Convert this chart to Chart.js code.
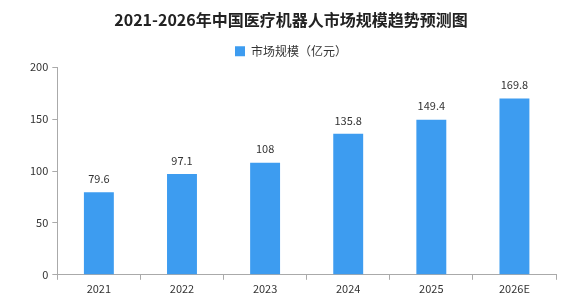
<!DOCTYPE html>
<html>
<head>
<meta charset="utf-8">
<script src="https://cdn.jsdelivr.net/npm/chart.js@4/dist/chart.umd.min.js"></script>
<style>
  html, body { margin: 0; padding: 0; background: #fff; }
  #wrap { width: 576px; height: 299px; }
</style>
</head>
<body>
<div id="wrap"><canvas id="chart"></canvas></div>
<script>
// chart data
const years = ['2021', '2022', '2023', '2024', '2025', '2026E'];
const marketSize = [79.6, 97.1, 108, 135.8, 149.4, 169.8];
const yTicks = [0, 50, 100, 150, 200];

const FONT = '"Noto Sans CJK SC", "DejaVu Sans", sans-serif';

// value labels above the bars
const barLabels = {
    id: 'barLabels',
    afterDatasetsDraw(chart) {
        const ctx = chart.ctx;
        const meta = chart.getDatasetMeta(0);
        ctx.save();
        ctx.font = '11px ' + FONT;
        ctx.fillStyle = '#333';
        ctx.textAlign = 'center';
        ctx.textBaseline = 'bottom';
        meta.data.forEach((bar, i) => {
            ctx.fillText(String(marketSize[i]), bar.x, bar.y - 8);
        });
        ctx.restore();
    }
};

new Chart(document.getElementById('chart'), {
    type: 'bar',
    data: {
        labels: years,
        datasets: [{
            label: '市场规模（亿元）',
            data: marketSize,
            backgroundColor: '#3d9cf0',
            borderWidth: 0,
            categoryPercentage: 1,
            barPercentage: 0.36
        }]
    },
    options: {
        responsive: true,
        maintainAspectRatio: false,
        animation: false,
        layout: { padding: { left: 26, right: 20, top: 6, bottom: 2 } },
        plugins: {
            title: {
                display: true,
                text: '2021-2026年中国医疗机器人市场规模趋势预测图',
                font: { family: FONT, size: 16, weight: 'bold' },
                color: '#222',
                padding: { top: 4, bottom: 8 }
            },
            legend: {
                display: true,
                labels: {
                    font: { family: FONT, size: 12 },
                    color: '#333',
                    boxWidth: 10,
                    boxHeight: 10,
                    padding: 8
                }
            },
            tooltip: { enabled: false }
        },
        scales: {
            x: {
                offset: true,
                grid: {
                    display: true,
                    offset: true,
                    drawOnChartArea: false,
                    tickLength: 5,
                    color: '#aaa'
                },
                border: { color: '#aaa' },
                ticks: { font: { family: FONT, size: 11 }, color: '#333', padding: 2 }
            },
            y: {
                min: 0,
                max: 200,
                afterBuildTicks(axis) {
                    axis.ticks = yTicks.map(v => ({ value: v }));
                },
                grid: {
                    display: true,
                    drawOnChartArea: false,
                    tickLength: 5,
                    color: '#aaa'
                },
                border: { color: '#aaa' },
                ticks: { font: { family: FONT, size: 11 }, color: '#333', padding: 4 }
            }
        }
    },
    plugins: [barLabels]
});
</script>
</body>
</html>
